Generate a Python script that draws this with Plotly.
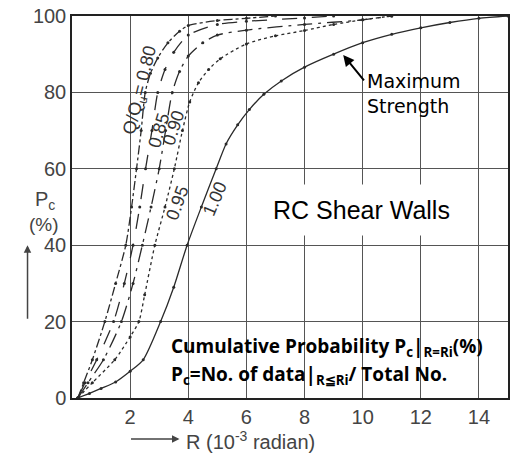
import plotly.graph_objects as go

# Cumulative probability curves (R in 10^-3 rad, Pc in %)
r_080 = [0.2, 0.4, 0.7, 1.13, 1.5, 1.85, 2.05, 2.22, 2.38, 2.52, 2.7, 2.95, 3.3, 3.7, 4.0, 5.0, 6.0, 7.0]
p_080 = [0, 4, 10, 20, 30, 40, 50, 60, 70, 80, 85, 89, 93, 96, 97.5, 98.8, 99.4, 100]

r_085 = [0.2, 0.45, 0.85, 1.43, 1.8, 2.1, 2.33, 2.53, 2.75, 2.95, 3.2, 3.5, 4.0, 5.0, 6.0, 8.0, 9.0]
p_085 = [0, 4, 10, 20, 30, 40, 50, 60, 70, 80, 86, 90.5, 95, 97.8, 98.6, 99.5, 100]

r_090 = [0.2, 0.55, 1.08, 1.7, 2.1, 2.42, 2.72, 3.0, 3.22, 3.45, 3.7, 4.0, 4.5, 5.0, 6.0, 8.0, 10.0, 11.0]
p_090 = [0, 4, 10, 20, 30, 40, 50, 60, 70, 80, 85.5, 89.5, 93, 95, 96.3, 97.8, 99, 100]

r_095 = [0.2, 0.7, 1.47, 2.0, 2.3, 2.5, 2.85, 3.2, 3.52, 3.8, 4.05, 4.35, 4.7, 5.1, 6.0, 7.0, 8.0, 9.0, 10.0, 11.0]
p_095 = [0, 4, 10, 16, 20, 27, 40, 50, 60, 70, 77.5, 82.5, 86, 88.8, 92.7, 94.8, 96.2, 97.8, 99, 100]

r_100 = [0.2, 0.6, 1.0, 1.5, 2.0, 2.45, 3.05, 3.5, 3.96, 4.45, 4.96, 5.3, 5.7, 6.1, 6.6, 7.2, 8.0, 9.0, 10.0, 11.0, 12.0, 13.0, 14.0, 15.0]
p_100 = [0, 1.2, 2.5, 4.2, 7, 10, 20, 29, 40, 50, 60, 66.5, 71.5, 75.5, 79.5, 83, 86.6, 90, 93, 95.2, 96.9, 98.3, 99.4, 100]

series = [
    ("0.80", r_080, p_080, "dashdot"),
    ("0.85", r_085, p_085, "longdash"),
    ("0.90", r_090, p_090, "longdashdot"),
    ("0.95", r_095, p_095, "dot"),
    ("1.00", r_100, p_100, "solid"),
]

x_ticks = [2, 4, 6, 8, 10, 12, 14]
y_ticks = [0, 20, 40, 60, 80, 100]

fig = go.Figure()
for name, xs, ys, dash in series:
    fig.add_trace(go.Scatter(
        x=xs, y=ys, name=name, mode="lines+markers",
        line=dict(color="#2a2a2a", width=1.3, dash=dash, shape="spline", smoothing=0.7),
        marker=dict(size=3, color="#2a2a2a"),
        showlegend=False,
    ))

label_font = "Liberation Sans, Arial, sans-serif"

# curve labels
curve_labels = [
    ("Q/Q<sub>u</sub>= 0.80", 2.36, 80.6, -76),
    ("0.85", 2.97, 70, -73),
    ("0.90", 3.49, 70.7, -72),
    ("0.95", 3.63, 51, -70),
    ("1.00", 4.92, 52, -67),
]
for txt, x, y, ang in curve_labels:
    fig.add_annotation(x=x, y=y, text=txt, showarrow=False, textangle=ang,
                       font=dict(family=label_font, size=18, color="#333"))

# Maximum strength arrow + text
fig.add_annotation(x=9.33, y=89.8, text="", showarrow=True, ax=22, ay=27,
                   arrowhead=2, arrowsize=1.1, arrowwidth=2, arrowcolor="#000")
fig.add_annotation(x=10.08, y=79.6, text="Maximum<br>Strength", showarrow=False,
                   xanchor="left", yanchor="middle", align="left",
                   font=dict(family="DejaVu Sans", size=19, color="#000"))

# RC Shear Walls with white box
fig.add_annotation(x=9.95, y=49.2, text="RC Shear Walls", showarrow=False,
                   bgcolor="white", borderpad=11,
                   font=dict(family="Liberation Sans, Arial", size=25, color="#000"))

# bold definition text
bold_font = dict(family="Open Sans, Lato, sans-serif", size=19, color="#000")
fig.add_annotation(x=3.33, y=13.4, text="<b>Cumulative Probability P<sub>c</sub>|<sub>R=Ri</sub>(%)</b>",
                   showarrow=False, xanchor="left", yanchor="middle", font=bold_font)
fig.add_annotation(x=3.33, y=5.9, text="<b>P<sub>c</sub>=No. of data|<sub>R≦Ri</sub>/ Total No.</b>",
                   showarrow=False, xanchor="left", yanchor="middle", font=bold_font)

# x axis title with arrow
fig.add_annotation(xref="paper", yref="paper", x=0.2466, y=-0.1075, text="", showarrow=True,
                   ax=-50, ay=0, arrowhead=2, arrowsize=1, arrowwidth=1.5, arrowcolor="#444")
fig.add_annotation(xref="paper", yref="paper", x=0.258, y=-0.11, text="R (10<sup>-3</sup> radian)",
                   showarrow=False, xanchor="left", yanchor="middle",
                   font=dict(family=label_font, size=20, color="#444"))

# y axis title with arrow
fig.add_annotation(xref="paper", yref="paper", x=-0.089, y=0.518, text="P<sub>c</sub>",
                   showarrow=False, font=dict(family=label_font, size=20, color="#444"))
fig.add_annotation(xref="paper", yref="paper", x=-0.103, y=0.455, text="(%)",
                   showarrow=False, font=dict(family=label_font, size=19, color="#444"))
fig.add_annotation(xref="paper", yref="paper", x=-0.102, y=0.40, text="", showarrow=True,
                   ax=0, ay=75, arrowhead=2, arrowsize=1, arrowwidth=1.5, arrowcolor="#444")

fig.update_xaxes(range=[0, 15], tickvals=x_ticks, ticktext=[str(v) for v in x_ticks],
                 showgrid=True, gridcolor="#555", gridwidth=1, zeroline=False,
                 showline=True, linecolor="#222", linewidth=1.5, mirror=True,
                 tickfont=dict(family=label_font, size=20, color="#444"))
fig.update_yaxes(range=[0, 100], tickvals=y_ticks, ticktext=[str(v) for v in y_ticks],
                 showgrid=True, gridcolor="#555", gridwidth=1, zeroline=False,
                 showline=True, linecolor="#222", linewidth=1.5, mirror=True,
                 tickfont=dict(family=label_font, size=20, color="#444"))

fig.update_layout(width=512, height=455, margin=dict(l=72, r=2, t=16, b=57),
                  paper_bgcolor="white", plot_bgcolor="white")

fig.write_html("out.html")
